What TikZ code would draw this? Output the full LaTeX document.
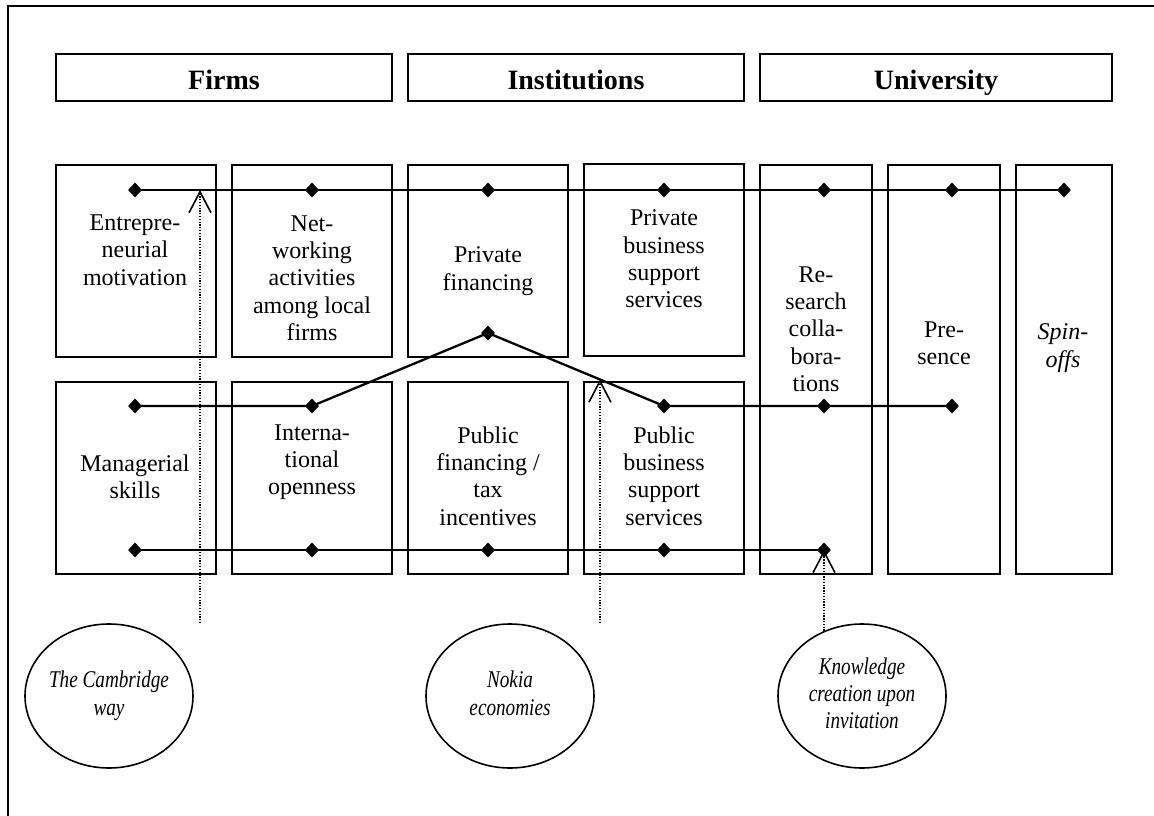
\documentclass[tikz,border=0pt]{standalone}
\usepackage{fontspec}
\setmainfont{Liberation Serif}
\usetikzlibrary{shapes.geometric,arrows.meta,calc}

% condensed italic lines for the model bubbles
\newcommand{\narrowlines}[1]{\scalebox{0.8}[1]{\begin{tabular}{@{}c@{}}#1\end{tabular}}}

\begin{document}
\begin{tikzpicture}[x=1pt,y=-1pt,
  frame/.style={line width=1.8pt},
  head/.style={draw,line width=1.8pt,minimum height=47pt,inner sep=0pt,
    text height=24pt,text depth=0.4pt,font=\fontsize{28}{32}\selectfont\bfseries},
  cell/.style={draw,line width=1.8pt,inner sep=0pt},
  lbl/.style={align=center,inner sep=0pt,font=\fontsize{24}{27.3}\selectfont},
  dot/.style={diamond,fill=black,inner sep=0pt,minimum width=14pt,minimum height=15pt},
  link/.style={line width=2.3pt},
  bubble/.style={ellipse,draw,line width=1.6pt,minimum width=168pt,minimum height=144pt,
    inner sep=0pt},
  bubbletext/.style={inner sep=0pt,font=\fontsize{24}{27.3}\selectfont\itshape},
  hint/.style={line width=1.2pt,dash pattern=on 1.3pt off 1.5pt,
    -{Straight Barb[length=21pt,width=22pt,line width=1.6pt]}}
]
\useasboundingbox (0,0) rectangle (1154,816);
\fill[white] (0,0) rectangle (1154,816);

% open frame round the figure
\draw[frame] (1154,6) -- (8,6) -- (8,816);

% column headings
\node[head,minimum width=336pt] (firms) at (224,77.5) {Firms};
\node[head,minimum width=336pt] (inst)  at (576,77.5) {Institutions};
\node[head,minimum width=352pt] (univ)  at (936,77.5) {University};

% factor cells
\node[cell,minimum width=160pt,minimum height=192pt] (c11) at (136,261) {};
\node[cell,minimum width=160pt,minimum height=192pt] (c12) at (312,261) {};
\node[cell,minimum width=160pt,minimum height=192pt] (c13) at (488,261) {};
\node[cell,minimum width=160pt,minimum height=192pt] (c14) at (664,260) {};
\node[cell,minimum width=160pt,minimum height=192pt] (c21) at (136,478) {};
\node[cell,minimum width=160pt,minimum height=192pt] (c22) at (312,478) {};
\node[cell,minimum width=160pt,minimum height=192pt] (c23) at (488,478) {};
\node[cell,minimum width=160pt,minimum height=192pt] (c24) at (664,478) {};
\node[cell,minimum width=112pt,minimum height=409pt] (res)  at (816,369.5) {};
\node[cell,minimum width=112pt,minimum height=409pt] (pres) at (944,369.5) {};
\node[cell,minimum width=96pt,minimum height=409pt]  (spin) at (1064,369.5) {};

% cell texts
\node[lbl] (t11) at (135,250) {Entrepre-\\neurial\\motivation};
\node[lbl] (t12) at (312,278) {Net-\\working\\activities\\among local\\firms};
\node[lbl] (t13) at (488,271) {Private\\financing};
\node[lbl] (t14) at (664,259) {Private\\business\\support\\services};
\node[lbl] (t21) at (135,477) {Managerial\\skills};
\node[lbl] (t22) at (312,462) {Interna-\\tional\\openness};
\node[lbl] (t23) at (488,476) {Public\\financing /\\tax\\incentives};
\node[lbl] (t24) at (664,476) {Public\\business\\support\\services};
\node[lbl] (tres)  at (816,329) {Re-\\search\\colla-\\bora-\\tions};
\node[lbl] (tpres) at (944,343) {Pre-\\sence};
\node[lbl] (tspin) at (1063,348) {\textit{Spin-}\\\textit{offs}};

% markers on the upper profile
\node[dot] (a1) at (135,190) {};
\node[dot] (a2) at (312,190) {};
\node[dot] (a3) at (488,190) {};
\node[dot] (a4) at (664,190) {};
\node[dot] (a5) at (824,190) {};
\node[dot] (a6) at (952,190) {};
\node[dot] (a7) at (1064,190) {};
% markers on the middle profile
\node[dot] (m1) at (135,406) {};
\node[dot] (m2) at (312,406) {};
\node[dot] (m3) at (488,333) {};
\node[dot] (m4) at (664,406) {};
\node[dot] (m5) at (824,406) {};
\node[dot] (m6) at (952,406) {};
% markers on the lower profile
\node[dot] (b1) at (135,550) {};
\node[dot] (b2) at (312,550) {};
\node[dot] (b3) at (488,550) {};
\node[dot] (b4) at (664,550) {};
\node[dot] (b5) at (824,550) {};

% profile lines
\draw[link] (a1.center) -- (a2.center) -- (a3.center) -- (a4.center)
  -- (a5.center) -- (a6.center) -- (a7.center);
\draw[link] (m1.center) -- (m2.center) -- (m3.center) -- (m4.center)
  -- (m5.center) -- (m6.center);
\draw[link] (b1.center) -- (b2.center) -- (b3.center) -- (b4.center) -- (b5.center);

% regional models
\node[bubble] (cam) at (109,696) {};
\node[bubble] (nok) at (510,696) {};
\node[bubble] (kno) at (862,696) {};
\node[bubbletext] (camtext) at (cam) {\narrowlines{The Cambridge\\way}};
\node[bubbletext] (noktext) at (nok) {\narrowlines{Nokia\\economies}};
\node[bubbletext] (knotext) at (kno) {\narrowlines{Knowledge\\creation upon\\invitation}};

% pointers from the models to the profiles
\coordinate (camtip) at (200,190);
\coordinate (noktip) at ($(m3.center)!0.636!(m4.center)$);
\draw[hint] (camtip |- cam.north) -- (camtip);
\draw[hint] (noktip |- nok.north) -- (noktip);
\draw[hint] (b5 |- kno.120.6) -- (b5.center);
\end{tikzpicture}
\end{document}
